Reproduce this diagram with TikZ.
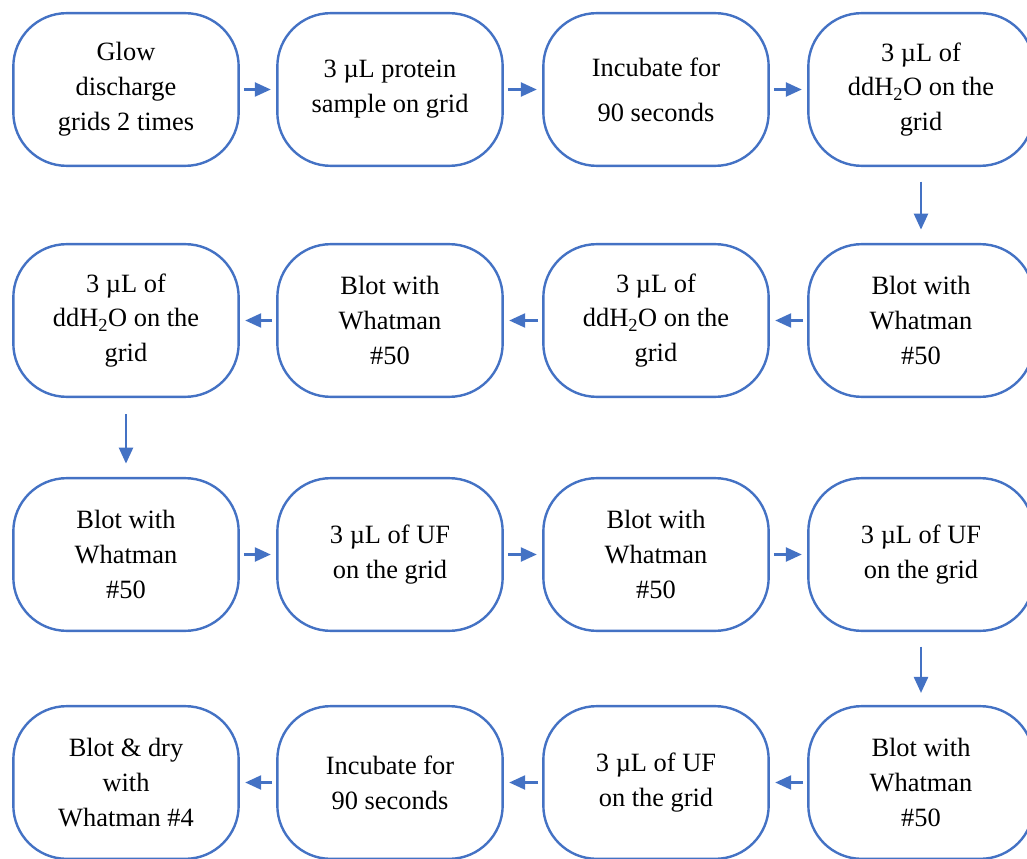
\documentclass[tikz,border=0pt]{standalone}
\usepackage{fontspec}
\setmainfont{Liberation Serif}
\definecolor{stepblue}{RGB}{68, 114, 196}
\usetikzlibrary{arrows.meta}

\begin{document}
\begin{tikzpicture}[x=0.75pt, y=-0.75pt,
  stepbox/.style={draw=stepblue, line width=1.8pt, rounded corners=40pt, fill=white,
    minimum width=169pt, minimum height=114.5pt, align=center,
    font=\fontsize{19.8}{26.2}\selectfont},
  flow/.style={draw=stepblue, line width=1.8pt, -{Triangle[length=12pt, width=10.5pt]}}]
\useasboundingbox (0,0) rectangle (1027,859);
% row 1
\node[stepbox] (glow) at (126,89.5) {Glow\\discharge\\grids 2 times};
\node[stepbox] (sample) at (390,89.5) {3 µL protein\\sample on grid};
\node[stepbox] (incA) at (656,89.5) {Incubate for\\[7.5pt]90 seconds};
\node[stepbox] (waterA) at (921,89.5) {3 µL of\\ddH\textsubscript{2}O on the\\grid};
% row 2
\node[stepbox] (blotA) at (921,320.5) {Blot with\\Whatman\\\#50};
\node[stepbox] (waterB) at (656,320.5) {3 µL of\\ddH\textsubscript{2}O on the\\grid};
\node[stepbox] (blotB) at (390,320.5) {Blot with\\Whatman\\\#50};
\node[stepbox] (waterC) at (126,320.5) {3 µL of\\ddH\textsubscript{2}O on the\\grid};
% row 3
\node[stepbox] (blotC) at (126,554.5) {Blot with\\Whatman\\\#50};
\node[stepbox] (ufA) at (390,554.5) {3 µL of UF\\on the grid};
\node[stepbox] (blotD) at (656,554.5) {Blot with\\Whatman\\\#50};
\node[stepbox] (ufB) at (921,554.5) {3 µL of UF\\on the grid};
% row 4
\node[stepbox] (blotE) at (921,782.5) {Blot with\\Whatman\\\#50};
\node[stepbox] (ufC) at (656,782.5) {3 µL of UF\\on the grid};
\node[stepbox] (incB) at (390,782.5) {Incubate for\\90 seconds};
\node[stepbox] (dry) at (126,782.5) {Blot \& dry\\with\\Whatman \#4};
% arrows
\draw[flow, shorten <=3pt, shorten >=4pt] (glow) -- (sample);
\draw[flow, shorten <=3pt, shorten >=4pt] (sample) -- (incA);
\draw[flow, shorten <=3pt, shorten >=4pt] (incA) -- (waterA);
\draw[flow, shorten <=11pt, shorten >=10pt] (waterA) -- (blotA);
\draw[flow, shorten <=3pt, shorten >=4pt] (blotA) -- (waterB);
\draw[flow, shorten <=3pt, shorten >=4pt] (waterB) -- (blotB);
\draw[flow, shorten <=3pt, shorten >=4pt] (blotB) -- (waterC);
\draw[flow, shorten <=12pt, shorten >=10pt] (waterC) -- (blotC);
\draw[flow, shorten <=3pt, shorten >=4pt] (blotC) -- (ufA);
\draw[flow, shorten <=3pt, shorten >=4pt] (ufA) -- (blotD);
\draw[flow, shorten <=3pt, shorten >=4pt] (blotD) -- (ufB);
\draw[flow, shorten <=11pt, shorten >=9pt] (ufB) -- (blotE);
\draw[flow, shorten <=3pt, shorten >=4pt] (blotE) -- (ufC);
\draw[flow, shorten <=3pt, shorten >=4pt] (ufC) -- (incB);
\draw[flow, shorten <=3pt, shorten >=4pt] (incB) -- (dry);
\end{tikzpicture}
\end{document}
